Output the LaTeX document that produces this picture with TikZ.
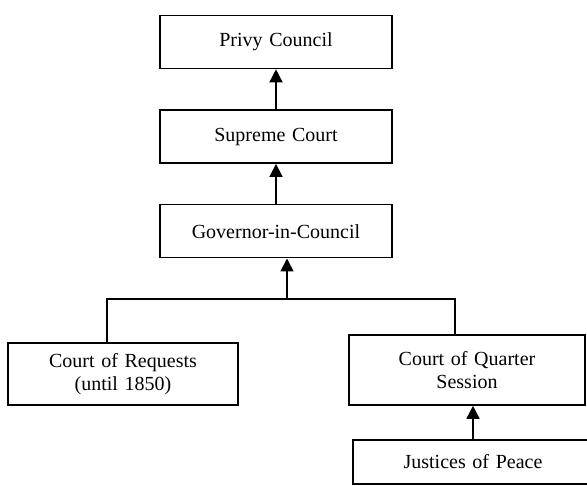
\documentclass[tikz,border=0pt]{standalone}
\usepackage{fontspec}
\setmainfont{Liberation Serif}
\usepackage{tikz}
\usetikzlibrary{arrows.meta, positioning, calc}

\begin{document}
\begin{tikzpicture}[
    x=1pt, y=-1pt,
    court/.style={rectangle, draw, line width=1.6pt, text width=220pt, text centered, minimum width=232pt, minimum height=53pt, inner sep=0pt, font=\fontsize{20}{23}\selectfont},
    up/.style={-{Triangle[length=13pt, width=13pt]}, line width=1.6pt},
    node distance=40pt
]
\clip (0,0) rectangle (587,486);
\node [court] (privy) at (276,42) {Privy Council};
\node [court, below=of privy] (supreme) {Supreme Court};
\node [court, below=of supreme] (governor) {Governor-in-Council};
\node [court, minimum width=230pt, minimum height=62pt] (requests) at (123,374) {Court of Requests\\(until 1850)};
\node [court, minimum width=236pt, minimum height=70pt] (quarter) at (467,370) {Court of Quarter\\Session};
\node [court, minimum width=240pt, minimum height=44pt] (justices) at (473,462) {Justices of Peace};

\coordinate (join) at (287,299);
\draw [line width=1.6pt] (join) -| ([xshift=-16pt]requests.north);
\draw [line width=1.6pt] (join) -| ([xshift=-12pt]quarter.north);

\draw [up] (join) -- (join |- governor.south);
\draw [up] (governor) -- (supreme);
\draw [up] (supreme) -- (privy);
\draw [up] (justices.north) -- (justices.north |- quarter.south);
\end{tikzpicture}
\end{document}
